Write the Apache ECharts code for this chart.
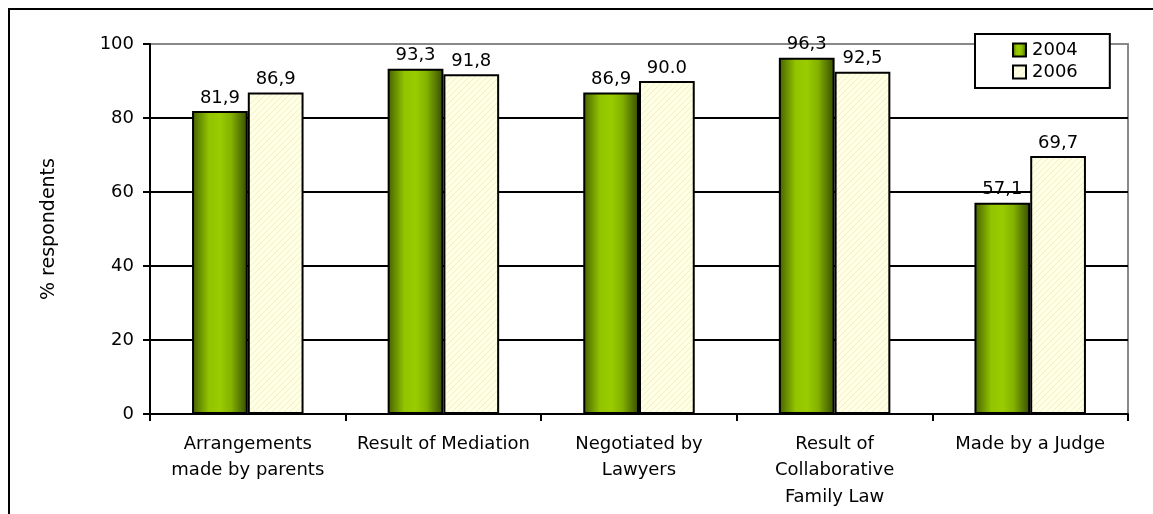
<!DOCTYPE html>
<html>
<head>
<meta charset="utf-8">
<script src="https://cdn.jsdelivr.net/npm/echarts@6/dist/echarts.min.js"></script>
<style>
  html, body { margin: 0; padding: 0; background: #fff; }
  #chart { width: 1153px; height: 514px; }
</style>
</head>
<body>
<div id="chart"></div>
<script>
// Outcome categories (x axis)
const categories = [
  'Arrangements\nmade by parents',
  'Result of Mediation',
  'Negotiated by\nLawyers',
  'Result of\nCollaborative\nFamily Law',
  'Made by a Judge'
];
// % respondents per survey year
const values2004 = [81.9, 93.3, 86.9, 96.3, 57.1];
const values2006 = [86.9, 91.8, 90.0, 92.5, 69.7];
// Printed value labels (as written on the chart)
const labels2004 = ['81,9', '93,3', '86,9', '96,3', '57,1'];
const labels2006 = ['86,9', '91,8', '90.0', '92,5', '69,7'];
const seriesNames = ['2004', '2006'];
const yTicks = { min: 0, max: 100, interval: 20 };

const FONT = 'DejaVu Sans';

// faint diagonal hatch for the cream bars
function hatchPattern() {
  const c = document.createElement('canvas');
  c.width = 6; c.height = 6;
  const g = c.getContext('2d');
  g.fillStyle = '#ffffe6';
  g.fillRect(0, 0, 6, 6);
  g.strokeStyle = '#f3efc4';
  g.lineWidth = 1;
  g.beginPath();
  g.moveTo(0, 6); g.lineTo(6, 0);
  g.moveTo(-3, 3); g.lineTo(3, -3);
  g.moveTo(3, 9); g.lineTo(9, 3);
  g.stroke();
  return { image: c, repeat: 'repeat' };
}

const greenGradient = {
  type: 'linear', x: 0, y: 0, x2: 1, y2: 0,
  colorStops: [
    { offset: 0, color: '#445f00' },
    { offset: 0.3, color: '#92c400' },
    { offset: 0.5, color: '#9acc00' },
    { offset: 0.7, color: '#84b200' },
    { offset: 1, color: '#344a00' }
  ]
};

const chart = echarts.init(document.getElementById('chart'), null, { renderer: 'canvas' });

const labelStyle = { show: true, position: 'top', distance: 4, color: '#000', fontFamily: FONT, fontSize: 18 };

chart.setOption({
  animation: false,
  backgroundColor: '#fff',
  textStyle: { fontFamily: FONT },
  grid: {
    left: 150, top: 44, right: 25, bottom: 100,
    show: true, borderColor: '#888', borderWidth: 2, backgroundColor: 'transparent'
  },
  graphic: [{
    type: 'rect',
    shape: { x: 9, y: 9, width: 1170, height: 540 },
    style: { fill: 'none', stroke: '#000', lineWidth: 2 },
    z: -1
  }],
  legend: {
    data: seriesNames,
    orient: 'vertical',
    left: 975, top: 34,
    padding: [7, 32, 7, 37],
    itemGap: 4,
    itemWidth: 13, itemHeight: 13,
    icon: 'rect',
    borderColor: '#000', borderWidth: 2,
    backgroundColor: '#fff',
    textStyle: { fontFamily: FONT, fontSize: 18, color: '#000', padding: [0, 0, 0, 1] },
    z: 10
  },
  xAxis: {
    type: 'category',
    data: categories,
    axisLine: { lineStyle: { color: '#000', width: 2 } },
    axisTick: { show: true, length: 7, lineStyle: { color: '#000', width: 2 } },
    axisLabel: { color: '#000', fontFamily: FONT, fontSize: 18, lineHeight: 26.5, margin: 17, interval: 0 }
  },
  yAxis: {
    type: 'value',
    min: yTicks.min, max: yTicks.max, interval: yTicks.interval,
    name: '% respondents',
    nameLocation: 'middle',
    nameGap: 91,
    nameTextStyle: { color: '#000', fontFamily: FONT, fontSize: 19 },
    axisLine: { show: true, lineStyle: { color: '#000', width: 2 } },
    axisTick: { show: true, length: 7, lineStyle: { color: '#000', width: 2 } },
    axisLabel: { color: '#000', fontFamily: FONT, fontSize: 18, margin: 16 },
    splitLine: { show: true, showMaxLine: false, lineStyle: { color: '#000', width: 2 } }
  },
  series: [
    {
      name: seriesNames[0],
      type: 'bar',
      data: values2004,
      barGap: '0%',
      barCategoryGap: '43%',
      itemStyle: { color: greenGradient, borderColor: '#000', borderWidth: 2 },
      label: Object.assign({}, labelStyle, { formatter: p => labels2004[p.dataIndex] }),
      z: 3
    },
    {
      name: seriesNames[1],
      type: 'bar',
      data: values2006,
      itemStyle: { color: hatchPattern(), borderColor: '#000', borderWidth: 2 },
      label: Object.assign({}, labelStyle, { formatter: p => labels2006[p.dataIndex] }),
      z: 3
    }
  ]
});
</script>
</body>
</html>
